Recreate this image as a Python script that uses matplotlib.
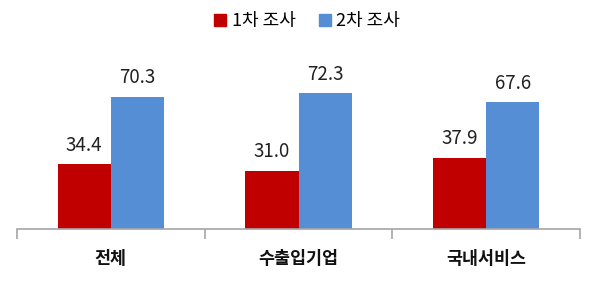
import matplotlib
matplotlib.use("Agg")
import matplotlib.pyplot as plt
import numpy as np

plt.rcParams['font.family'] = ['Noto Sans CJK KR', 'DejaVu Sans']

categories = ['전체', '수출입기업', '국내서비스']
series_names = ['1차 조사', '2차 조사']
round1 = [34.4, 31.0, 37.9]
round2 = [70.3, 72.3, 67.6]
colors = ['#C00000', '#558ED5']

fig = plt.figure(figsize=(6.0, 2.86), dpi=100)
ax = fig.add_axes([0.028, 0.199, 0.939, 0.658])

x = np.arange(len(categories))
w = 0.283
b1 = ax.bar(x - w/2, round1, w, color=colors[0], label=series_names[0])
b2 = ax.bar(x + w/2, round2, w, color=colors[1], label=series_names[1])

for bars, vals in ((b1, round1), (b2, round2)):
    for r, v in zip(bars, vals):
        ax.annotate(f'{v:.1f}', (r.get_x() + r.get_width()/2, r.get_height()),
                    xytext=(0, 6), textcoords='offset points',
                    ha='center', va='bottom', fontsize=13.5, color='#222222')

ax.set_xlim(-0.5, len(categories) - 0.5)
ax.set_ylim(0, 100)
for s in ('top', 'right', 'left'):
    ax.spines[s].set_visible(False)
ax.spines['bottom'].set_color('#A6A6A6')
ax.spines['bottom'].set_linewidth(1.2)
ax.set_yticks([])
ax.set_xticks(np.arange(len(categories) + 1) - 0.5, minor=False)
ax.set_xticklabels([])
ax.tick_params(axis='x', which='major', length=7, color='#A6A6A6', width=1.2)
ax.set_xticks(x, minor=True)
ax.set_xticklabels(categories, minor=True, fontsize=12.5, fontweight='bold', color='#111111')
ax.tick_params(axis='x', which='minor', length=0, pad=15)

handles = [plt.Rectangle((0, 0), 1, 1, color=c) for c in colors]
fig.legend(handles, series_names, loc='center', bbox_to_anchor=(0.512, 0.925),
           ncol=2, frameon=False, fontsize=13, handlelength=0.65, handleheight=0.65,
           handletextpad=0.3, columnspacing=1.3)

fig.savefig('out.png', dpi=100)
